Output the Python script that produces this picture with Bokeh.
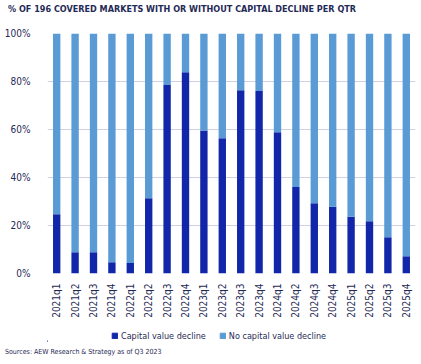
from bokeh.plotting import figure
from bokeh.models import FactorRange, Range1d, Legend, LegendItem, Div, FixedTicker, CustomJSTickFormatter
from bokeh.layouts import column
from bokeh.embed import file_html
from bokeh.resources import INLINE
import math

quarters = ["2021q1", "2021q2", "2021q3", "2021q4", "2022q1", "2022q2", "2022q3", "2022q4",
            "2023q1", "2023q2", "2023q3", "2023q4", "2024q1", "2024q2", "2024q3", "2024q4",
            "2025q1", "2025q2", "2025q3", "2025q4"]
decline = [24.7, 8.9, 8.9, 4.7, 4.4, 31.4, 78.5, 83.9, 59.6, 56.4, 76.4, 76.0, 58.9, 36.0,
           29.3, 27.8, 23.6, 21.8, 15.1, 7.2]
no_decline = [100 - d for d in decline]
y_ticks = [0, 20, 40, 60, 80, 100]
series_labels = ["Capital value decline", "No capital value decline"]
title_text = "% OF 196 COVERED MARKETS WITH OR WITHOUT CAPITAL DECLINE PER QTR"
source_text = "Sources: AEW Research &amp; Strategy as of Q3 2023"

DARK = "#1226A9"
LIGHT = "#5B9BD5"
TEXT = "#1F2A55"
FONT = "DejaVu Sans Condensed"
W = 421

# header with title
head = Div(text=('<div style="padding:4px 0 0 8px;font-family:\'DejaVu Sans Condensed\';'
                 'font-size:9px;font-weight:bold;line-height:10px;color:%s;white-space:nowrap;">%s</div>'
                 % (TEXT, title_text)),
           width=W, height=22, margin=0)

# main chart
data = dict(q=quarters, decline=decline, no_decline=no_decline)
p = figure(x_range=FactorRange(*quarters, range_padding=0.0), y_range=(0, 100),
           width=W, height=303, output_backend="svg", toolbar_location=None,
           min_border_left=47, min_border_right=6, min_border_top=11, min_border_bottom=52)
p.outline_line_color = None
rs = p.vbar_stack(["decline", "no_decline"], x="q", width=0.4, source=data,
                  color=[DARK, LIGHT], line_color=None)

p.yaxis.ticker = FixedTicker(ticks=y_ticks)
p.yaxis.formatter = CustomJSTickFormatter(code="return tick.toFixed(0) + '%';")
p.yaxis.axis_line_color = None
p.yaxis.major_tick_line_color = None
p.yaxis.minor_tick_line_color = None
p.yaxis.major_label_text_font = FONT
p.yaxis.major_label_text_font_size = "10px"
p.yaxis.major_label_text_color = TEXT
p.yaxis.major_label_standoff = 11

p.xaxis.axis_line_color = None
p.xaxis.major_tick_line_color = None
p.xaxis.major_label_orientation = math.pi / 2
p.xaxis.major_label_text_font = FONT
p.xaxis.major_label_text_font_size = "10px"
p.xaxis.major_label_text_color = TEXT
p.xaxis.major_label_standoff = 4

p.xgrid.grid_line_color = None
p.ygrid.grid_line_color = "#CDD1E2"
p.ygrid.grid_line_width = 1

# legend row (its own small figure; swatches from off-view stand-in bars)
leg = figure(width=W, height=17, x_range=Range1d(0, 100), y_range=Range1d(0, 10),
             output_backend="svg", toolbar_location=None,
             x_axis_location=None, y_axis_location=None,
             min_border_left=0, min_border_right=0, min_border_top=0, min_border_bottom=0)
leg.outline_line_color = None
leg.grid.visible = False
r1 = leg.vbar(x=[-1000], top=[1], width=1, color=DARK)
r2 = leg.vbar(x=[-1000], top=[1], width=1, color=LIGHT)
legend = Legend(items=[LegendItem(label=series_labels[0], renderers=[r1]),
                       LegendItem(label=series_labels[1], renderers=[r2])],
                orientation="horizontal", location=(64, 1),
                label_text_font=FONT, label_text_font_size="9px", label_text_color=TEXT,
                glyph_width=7, glyph_height=7, label_height=11, spacing=13, label_standoff=3,
                border_line_color=None, background_fill_alpha=0, padding=2, margin=0)
leg.add_layout(legend, "center")

# source row
src = Div(text=('<div style="padding:4px 0 0 5px;font-family:\'DejaVu Sans Condensed\';'
                'font-size:7px;line-height:9px;color:%s;white-space:nowrap;">%s</div>'
                % (TEXT, source_text)),
          width=W, height=22, margin=0)

layout = column(head, p, leg, src, spacing=0)
open("out.html", "w").write(file_html(layout, INLINE))
